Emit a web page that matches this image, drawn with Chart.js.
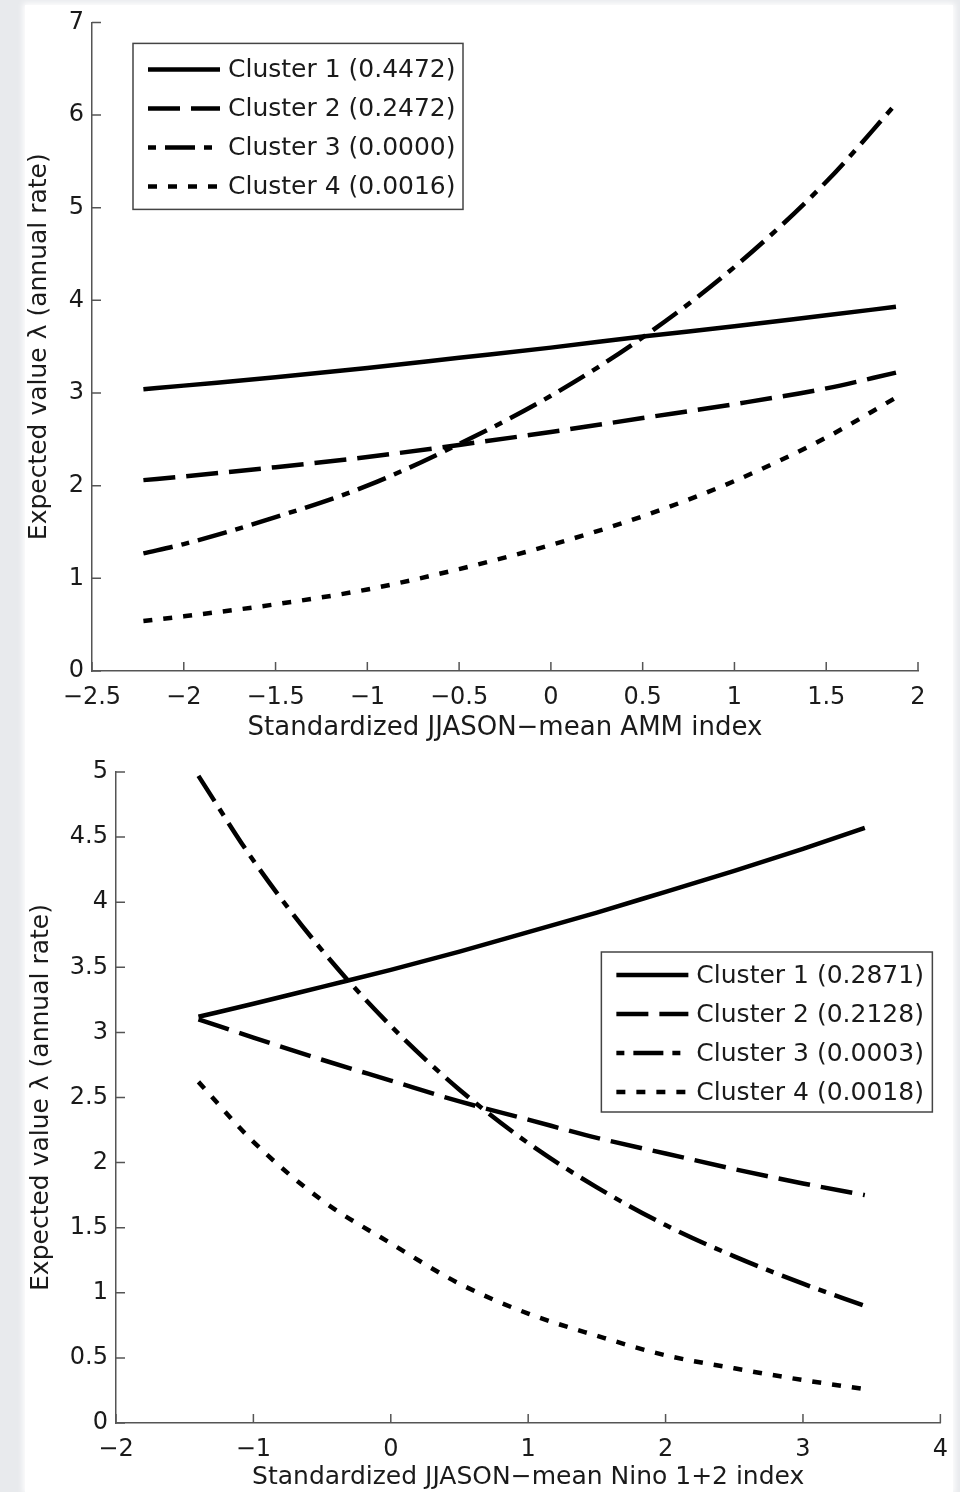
<!DOCTYPE html>
<html>
<head>
<meta charset="utf-8">
<script src="https://cdn.jsdelivr.net/npm/chart.js@4.4.1/dist/chart.umd.min.js"></script>
<style>
  html, body { margin: 0; padding: 0; background: #e8eaed; }
  body { width: 960px; height: 1492px; position: relative; overflow: hidden; }
  #paper { position: absolute; left: 25px; top: 5px; width: 928px; height: 1487px; background: #fff; box-shadow: 0 0 6px 2px #fff; }
  .box { position: absolute; left: 0; width: 960px; height: 746px; }
  #top { top: 0; }
  #bot { top: 746px; }
</style>
</head>
<body>
<div id="paper"></div>
<div class="box" id="top"><canvas id="ammChart"></canvas></div>
<div class="box" id="bot"><canvas id="ninoChart"></canvas></div>
<script>
// ---- AMM panel (top) ----
const ammX  = [-2.22, -2, -1.5, -1, -0.5, 0, 0.5, 1, 1.5, 1.88];
const ammC1 = [3.04, 3.08, 3.17, 3.27, 3.38, 3.49, 3.61, 3.72, 3.84, 3.93];
const ammC2 = [2.06, 2.10, 2.20, 2.31, 2.44, 2.58, 2.73, 2.88, 3.05, 3.22];
const ammC3 = [1.27, 1.37, 1.66, 2.00, 2.45, 2.97, 3.60, 4.36, 5.28, 6.12];
const ammC4 = [0.54, 0.59, 0.72, 0.88, 1.10, 1.36, 1.67, 2.05, 2.52, 2.95];
const ammLabels = ['Cluster 1 (0.4472)', 'Cluster 2 (0.2472)', 'Cluster 3 (0.0000)', 'Cluster 4 (0.0016)'];

// ---- Nino 1+2 panel (bottom) ----
const ninoX  = [-1.4, -1, -0.5, 0, 0.5, 1, 1.5, 2, 2.5, 3, 3.45];
const ninoC1 = [3.12, 3.22, 3.35, 3.48, 3.62, 3.77, 3.92, 4.08, 4.24, 4.41, 4.57];
const ninoC2 = [3.10, 2.96, 2.79, 2.63, 2.47, 2.33, 2.19, 2.07, 1.95, 1.84, 1.75];
const ninoC3 = [4.97, 4.32, 3.63, 3.05, 2.56, 2.15, 1.81, 1.52, 1.28, 1.07, 0.90];
const ninoC4 = [2.62, 2.16, 1.71, 1.38, 1.07, 0.84, 0.67, 0.52, 0.42, 0.33, 0.26];
const ninoLabels = ['Cluster 1 (0.2871)', 'Cluster 2 (0.2128)', 'Cluster 3 (0.0003)', 'Cluster 4 (0.0018)'];

const yTitle = 'Expected value \u03bb (annual rate)';
const FONT = '"DejaVu Sans", "Liberation Sans", sans-serif';
const INK = '#1a1a1a';
const dashes = [[], [32, 11], [30, 9, 8, 9], [9, 11]];
const legendOffset = [0, 0, 39, 0];   // start dash-dot sample on a dot

// matlab style ticks pointing into the plot
const inwardTicks = {
  id: 'inwardTicks',
  afterDraw(chart) {
    const ctx = chart.ctx, xs = chart.scales.x, ys = chart.scales.y;
    ctx.save();
    ctx.strokeStyle = '#555';
    ctx.lineWidth = 1.5;
    ctx.beginPath();
    xs.ticks.forEach(t => {
      const px = xs.getPixelForValue(t.value);
      ctx.moveTo(px, xs.top); ctx.lineTo(px, xs.top - 9);
    });
    ys.ticks.forEach(t => {
      const py = ys.getPixelForValue(t.value);
      ctx.moveTo(ys.right, py); ctx.lineTo(ys.right + 9, py);
    });
    ctx.stroke();
    ctx.restore();
  }
};

// boxed legend drawn inside the axes
const boxLegend = {
  id: 'boxLegend',
  afterDraw(chart, args, o) {
    const ctx = chart.ctx, a = chart.chartArea;
    const x0 = o.right != null ? a.right - o.right - o.width : a.left + o.left;
    const y0 = a.top + o.top;
    ctx.save();
    ctx.fillStyle = '#fff';
    ctx.fillRect(x0, y0, o.width, o.height);
    ctx.strokeStyle = '#444';
    ctx.lineWidth = 1.5;
    ctx.strokeRect(x0, y0, o.width, o.height);
    ctx.font = '25px ' + FONT;
    ctx.textBaseline = 'middle';
    chart.data.datasets.forEach((ds, i) => {
      const y = y0 + o.firstRow + i * o.rowGap;
      ctx.setLineDash(ds.borderDash);
      ctx.lineDashOffset = legendOffset[i];
      ctx.lineWidth = ds.borderWidth;
      ctx.strokeStyle = ds.borderColor;
      ctx.beginPath(); ctx.moveTo(x0 + 15, y); ctx.lineTo(x0 + 87, y); ctx.stroke();
      ctx.setLineDash([]);
      ctx.fillStyle = INK;
      ctx.fillText(ds.label, x0 + 95, y + 1);
    });
    ctx.restore();
  }
};

function fmt(v) {
  const r = Math.round(v * 10) / 10;
  return r < 0 ? '\u2212' + Math.abs(r) : String(r);
}

function makePanel(id, xs, ys, labels, cfg) {
  const datasets = ys.map((arr, i) => ({
    label: labels[i],
    data: arr.map((y, j) => ({ x: xs[j], y })),
    borderColor: '#000',
    borderWidth: 4.5,
    borderDash: dashes[i],
    borderCapStyle: 'butt',
    pointRadius: 0,
    cubicInterpolationMode: 'monotone',
    fill: false
  }));
  return new Chart(document.getElementById(id), {
    type: 'line',
    data: { datasets },
    plugins: [inwardTicks, boxLegend],
    options: {
      responsive: true,
      maintainAspectRatio: false,
      animation: false,
      layout: { padding: cfg.pad },
      plugins: {
        legend: { display: false },
        tooltip: { enabled: false },
        boxLegend: cfg.legend
      },
      scales: {
        x: {
          type: 'linear', min: cfg.xr[0], max: cfg.xr[1],
          afterFit: s => { s.height = cfg.xh; },
          ticks: { stepSize: cfg.xr[2], color: INK, padding: 12, maxRotation: 0,
                   font: { family: FONT, size: 24 }, callback: fmt },
          grid: { display: false, drawTicks: false },
          border: { display: true, color: '#555', width: 1.5 },
          title: { display: true, text: cfg.xTitle, color: INK,
                   font: { family: FONT, size: cfg.xtSize }, padding: { top: 0, bottom: cfg.xtPad } }
        },
        y: {
          type: 'linear', min: cfg.yr[0], max: cfg.yr[1],
          afterFit: s => { s.width = cfg.yw; },
          ticks: { stepSize: cfg.yr[2], color: INK, padding: 8,
                   font: { family: FONT, size: 24 }, callback: fmt },
          grid: { display: false, drawTicks: false },
          border: { display: true, color: '#555', width: 1.5 },
          title: { display: true, text: yTitle, color: INK,
                   font: { family: FONT, size: 25 }, padding: { top: cfg.ytPad, bottom: 0 } }
        }
      }
    }
  });
}

makePanel('ammChart', ammX, [ammC1, ammC2, ammC3, ammC4], ammLabels, {
  xr: [-2.5, 2, 0.5], yr: [0, 7, 1],
  pad: { top: 22, right: 42, left: 0, bottom: 0 },
  xh: 75, yw: 92, xtPad: 2, ytPad: 24, xtSize: 26,
  xTitle: 'Standardized JJASON\u2212mean AMM index',
  legend: { left: 41, top: 21, width: 330, height: 166, firstRow: 26, rowGap: 39 }
});

makePanel('ninoChart', ninoX, [ninoC1, ninoC2, ninoC3, ninoC4], ninoLabels, {
  xr: [-2, 4, 1], yr: [0, 5, 0.5],
  pad: { top: 26, right: 17, left: 0, bottom: 0 },
  xh: 69, yw: 116, xtPad: 0, ytPad: 26, xtSize: 25,
  xTitle: 'Standardized JJASON\u2212mean Nino 1+2 index',
  legend: { right: 8, top: 180, width: 331, height: 160, firstRow: 23, rowGap: 39 }
});
</script>
</body>
</html>
